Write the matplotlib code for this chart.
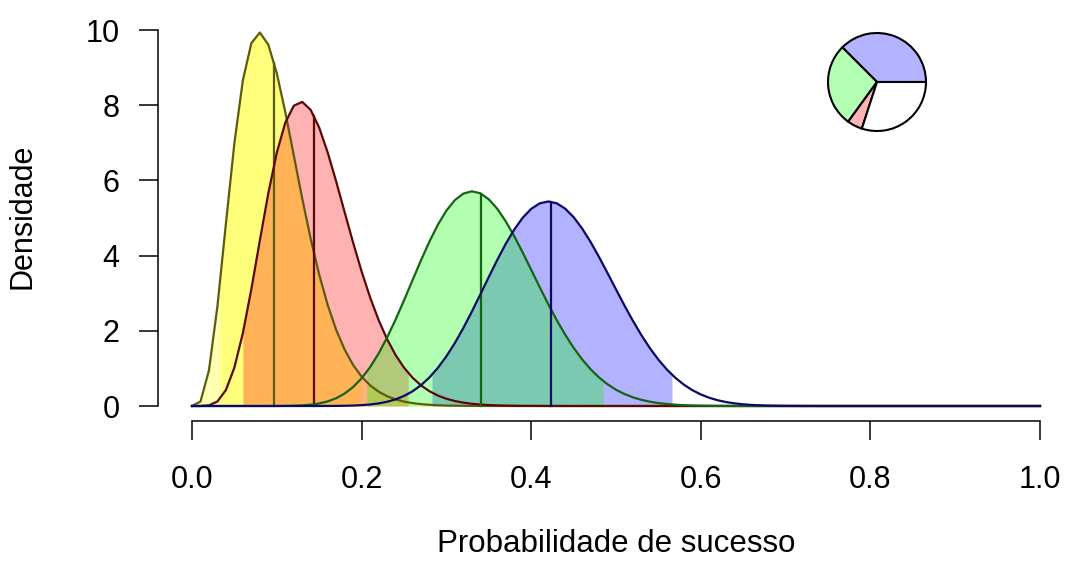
import math
import numpy as np
import matplotlib
matplotlib.use("Agg")
import matplotlib.pyplot as plt

# ---- data ----
names = ["amarelo", "vermelho", "verde", "azul"]
alpha_par = [4.6, 6.8, 15.5, 19.4]      # beta shape 1
beta_par = [42.8, 40.5, 30.4, 26.4]     # beta shape 2
interval_lo = [0.033, 0.060, 0.206, 0.283]
interval_hi = [0.200, 0.255, 0.485, 0.566]
centers = [0.097, 0.144, 0.341, 0.423]
fill_colors = ["#FFFF00", "#FF0000", "#00FF00", "#0000FF"]
line_colors = ["#5C5C10", "#5A0808", "#146414", "#0A0A64"]
pie_values = [0.375, 0.275, 0.05, 0.30]
pie_colors = ["#B3B3FF", "#B3FFB3", "#FFB3B3", "#FFFFFF"]
x_ticks = [0.0, 0.2, 0.4, 0.6, 0.8, 1.0]
x_ticklabels = ["0.0", "0.2", "0.4", "0.6", "0.8", "1.0"]
y_ticks = [0, 2, 4, 6, 8, 10]

plt.rcParams['font.family'] = ['Liberation Sans', 'DejaVu Sans']


def beta_pdf(x, a, b):
    x = np.asarray(x, dtype=float)
    out = np.zeros_like(x)
    m = (x > 0) & (x < 1)
    lb = math.lgamma(a + b) - math.lgamma(a) - math.lgamma(b)
    out[m] = np.exp(lb + (a - 1) * np.log(x[m]) + (b - 1) * np.log1p(-x[m]))
    return out


W, H = 1065, 566
fig = plt.figure(figsize=(W / 100, H / 100), dpi=100)
# axis box in pixels: x 0->192, 1->1040 ; y 0->406, 10->30
ppx = 848.0
ppy = 37.6
left = 192 - 0.04 * ppx
right = 1040 + 0.04 * ppx
top = 30 - 0.4 * ppy
bottom = 406 + 0.4 * ppy
ax = fig.add_axes([left / W, 1 - bottom / H, (right - left) / W, (bottom - top) / H])
ax.set_xlim(-0.04, 1.04)
ax.set_ylim(-0.4, 10.4)

xg = np.linspace(0, 1, 101)

# fills: yellow (whole curve light + interval), red, blue, green
yy = beta_pdf(xg, alpha_par[0], beta_par[0])
ax.fill_between(xg, 0, yy, color=fill_colors[0], alpha=0.3, linewidth=0)
for i in [0, 1, 3, 2]:
    lo, hi = interval_lo[i], interval_hi[i]
    xs = np.concatenate([[lo], xg[(xg > lo) & (xg < hi)], [hi]])
    ys = beta_pdf(xs, alpha_par[i], beta_par[i])
    ax.fill_between(xs, 0, ys, color=fill_colors[i], alpha=0.3, linewidth=0)

# curves and center lines
for i in range(4):
    yv = beta_pdf(xg, alpha_par[i], beta_par[i])
    ax.plot(xg, yv, color=line_colors[i], lw=1.6)
    c = centers[i]
    ax.plot([c, c], [0, beta_pdf([c], alpha_par[i], beta_par[i])[0]],
            color=line_colors[i], lw=1.6)

for s in ["top", "right"]:
    ax.spines[s].set_visible(False)
ax.spines["left"].set_bounds(0, 10)
ax.spines["bottom"].set_bounds(0, 1)
for s in ["left", "bottom"]:
    ax.spines[s].set_linewidth(1.1)
ax.set_xticks(x_ticks)
ax.set_xticklabels(x_ticklabels)
ax.set_yticks(y_ticks)
ax.tick_params(axis='both', length=13.7, width=1.1, labelsize=22)
ax.tick_params(axis='x', pad=18)
ax.tick_params(axis='y', pad=14)

fig.text(616 / W, 1 - 552 / H, "Probabilidade de sucesso", fontsize=22.5,
         ha='center', va='baseline')
fig.text(23 / W, 1 - 216 / H, "Densidade", fontsize=22, rotation=90,
         ha='center', va='center')

# pie inset
cx, cy, r = 877, 82, 49
pax = fig.add_axes([(cx - 52) / W, 1 - (cy + 52) / H, 104 / W, 104 / H])
pax.pie(pie_values, colors=pie_colors, startangle=0, counterclock=True,
        wedgeprops=dict(edgecolor='black', linewidth=1.5), radius=1.0)
pax.set_xlim(-52 / r, 52 / r)
pax.set_ylim(-52 / r, 52 / r)
pax.set_aspect('equal')
pax.axis('off')

fig.savefig("out.png", dpi=100)
